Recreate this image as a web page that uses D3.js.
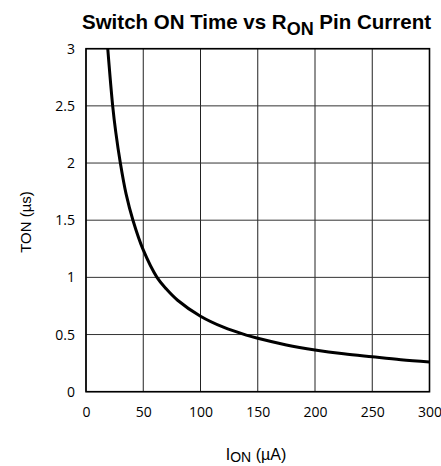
<!DOCTYPE html>
<html>
<head>
<meta charset="utf-8">
<script src="https://cdn.jsdelivr.net/npm/d3@7"></script>
<style>
  body { margin: 0; background: #fff; }
  svg { display: block; }
  .tick text { font-family: "Open Sans", "Liberation Sans", sans-serif; font-size: 14px; fill: #000; }
</style>
</head>
<body>
<svg id="chart" width="441" height="466"></svg>
<script>
const svg = d3.select("#chart");

// values
const currentUA = [19, 23.3, 26, 30, 35, 41, 50, 62, 70, 80, 100, 120, 140, 150, 175, 200, 225, 250, 275, 300];
const tonUs     = [3.0, 2.5, 2.27, 2.0, 1.73, 1.5, 1.24, 1.0, 0.90, 0.80, 0.66, 0.564, 0.495, 0.467, 0.409, 0.365, 0.331, 0.305, 0.28, 0.26];
const xTicks = [0, 50, 100, 150, 200, 250, 300];
const yTicks = [0, 0.5, 1, 1.5, 2, 2.5, 3];

const plotL = 86, plotR = 429.5, plotT = 48.7, plotB = 391.7;

const x = d3.scaleLinear().domain([0, 300]).range([plotL, plotR]);
const y = d3.scaleLinear().domain([0, 3]).range([plotB, plotT]);

// grid
svg.append("g").selectAll("line").data(xTicks).join("line")
  .attr("x1", d => x(d)).attr("x2", d => x(d))
  .attr("y1", plotT).attr("y2", plotB)
  .attr("stroke", "#222").attr("stroke-width", 1);
svg.append("g").selectAll("line").data(yTicks).join("line")
  .attr("x1", plotL).attr("x2", plotR)
  .attr("y1", d => y(d)).attr("y2", d => y(d))
  .attr("stroke", "#333").attr("stroke-width", 1);

// axes (labels only)
const xAxis = svg.append("g").attr("transform", `translate(0,${plotB})`)
  .call(d3.axisBottom(x).tickValues(xTicks).tickSize(0).tickPadding(15));
xAxis.select(".domain").remove();

const yAxis = svg.append("g").attr("transform", `translate(${plotL},0)`)
  .call(d3.axisLeft(y).tickValues(yTicks).tickSize(0).tickPadding(11).tickFormat(d3.format("")));
yAxis.select(".domain").remove();

// frame
svg.append("rect")
  .attr("x", plotL).attr("y", plotT)
  .attr("width", plotR - plotL).attr("height", plotB - plotT)
  .attr("fill", "none").attr("stroke", "#000").attr("stroke-width", 1.6);

// curve
const pts = currentUA.map((c, i) => [c, tonUs[i]]);
svg.append("path")
  .datum(pts)
  .attr("fill", "none")
  .attr("stroke", "#000")
  .attr("stroke-width", 3)
  .attr("d", d3.line().x(d => x(d[0])).y(d => y(d[1])).curve(d3.curveCatmullRom.alpha(0.5)));

// title
const title = svg.append("text")
  .attr("x", 256.5).attr("y", 29)
  .attr("text-anchor", "middle")
  .attr("font-family", "Liberation Sans, Arial, sans-serif")
  .attr("font-weight", "bold")
  .attr("font-size", 20.5);
title.append("tspan").text("Switch ON Time vs R");
title.append("tspan").attr("font-size", 18).attr("dy", 6).text("ON");
title.append("tspan").attr("dy", -6).text(" Pin Current");

// x label
const xl = svg.append("text")
  .attr("x", 256).attr("y", 460)
  .attr("text-anchor", "middle")
  .attr("font-family", "Liberation Sans, Arial, sans-serif")
  .attr("font-size", 16);
xl.append("tspan").text("I");
xl.append("tspan").attr("font-size", 14).attr("dy", 2).text("ON");
xl.append("tspan").attr("dy", -2).text(" (\u00b5A)");

// y label
svg.append("text")
  .attr("transform", "translate(31,222) rotate(-90)")
  .attr("text-anchor", "middle")
  .attr("font-family", "Liberation Sans, Arial, sans-serif")
  .attr("font-size", 15)
  .text("TON (\u00b5s)");
</script>
</body>
</html>
